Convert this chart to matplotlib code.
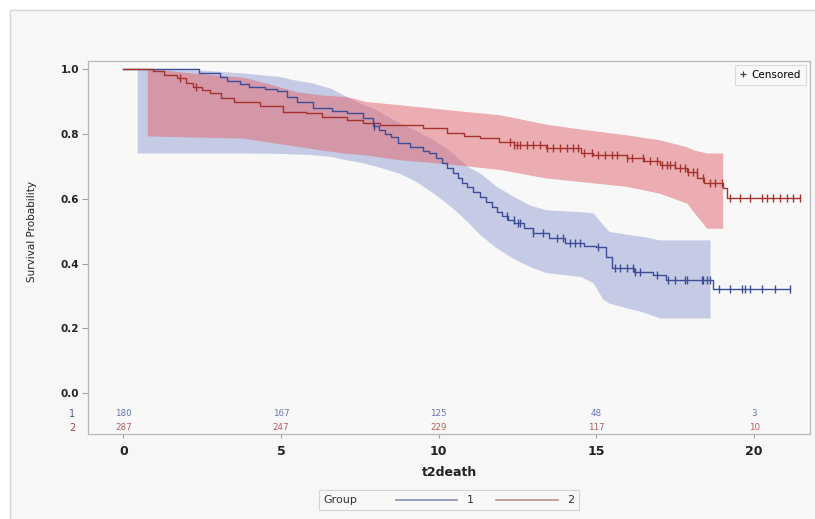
import numpy as np
import matplotlib
matplotlib.use("Agg")
import matplotlib.pyplot as plt
from matplotlib.lines import Line2D
from matplotlib.patches import Rectangle
from matplotlib.offsetbox import AnchoredOffsetbox, HPacker, TextArea, DrawingArea


# ---------------------------
# Data
# ---------------------------
# group 1 Kaplan-Meier step curve
g1_time = [0, 2.4, 3.07, 3.28, 3.7, 4.0, 4.5, 4.86, 5.2, 5.5, 6.0, 6.6, 7.08, 7.6,
           7.9, 8.1, 8.3, 8.5, 8.7, 9.1, 9.5, 9.7, 9.9, 10.1, 10.25, 10.45, 10.6,
           10.75, 10.9, 11.1, 11.3, 11.5, 11.7, 11.85, 12.0, 12.2, 12.4, 12.7,
           13.0, 13.5, 14.0, 14.6, 15.0, 15.3, 15.5, 16.2, 16.8, 17.2, 18.7, 21.1]
g1_surv = [1.0, 0.988, 0.977, 0.962, 0.954, 0.946, 0.938, 0.931, 0.915, 0.9,
           0.88, 0.87, 0.864, 0.85, 0.825, 0.813, 0.80, 0.79, 0.772, 0.760,
           0.748, 0.741, 0.725, 0.71, 0.695, 0.68, 0.665, 0.65, 0.635, 0.62,
           0.605, 0.59, 0.575, 0.56, 0.548, 0.535, 0.525, 0.51, 0.494, 0.478,
           0.464, 0.455, 0.452, 0.42, 0.386, 0.375, 0.365, 0.35, 0.322, 0.322]

# group 2 Kaplan-Meier step curve
g2_time = [0, 0.95, 1.3, 1.7, 2.0, 2.2, 2.5, 2.75, 3.1, 3.5, 4.33, 5.07, 5.8,
           6.3, 7.08, 7.6, 8.14, 9.5, 10.25, 10.8, 11.3, 11.9, 12.37, 13.4, 14.5,
           14.9, 15.96, 16.5, 17.0, 17.5, 17.87, 18.2, 18.4, 19.0, 19.13, 21.45]
g2_surv = [1.0, 0.993, 0.983, 0.972, 0.958, 0.946, 0.935, 0.926, 0.912, 0.9,
           0.885, 0.869, 0.864, 0.852, 0.844, 0.835, 0.828, 0.819, 0.802, 0.795,
           0.787, 0.775, 0.766, 0.757, 0.741, 0.736, 0.726, 0.716, 0.705, 0.695,
           0.684, 0.665, 0.649, 0.634, 0.602, 0.602]

# confidence bands
g1_band_t = [0.44, 2.5, 3.8, 4.97, 5.4, 6.0, 6.6, 7.08, 7.5, 8.03, 8.77, 9.3,
             9.82, 10.25, 10.57, 10.9, 11.3, 11.8, 12.37, 12.9, 13.4, 14.5, 14.9,
             15.2, 15.4, 16.0, 16.5, 17.0, 18.6]
g1_upper = [1.0, 0.997, 0.988, 0.977, 0.967, 0.957, 0.94, 0.915, 0.895, 0.874,
            0.833, 0.81, 0.782, 0.755, 0.73, 0.70, 0.68, 0.64, 0.607, 0.58, 0.566,
            0.56, 0.556, 0.52, 0.499, 0.49, 0.483, 0.473, 0.473]
g1_lower = [0.741, 0.741, 0.741, 0.74, 0.738, 0.736, 0.73, 0.72, 0.713, 0.70,
            0.678, 0.652, 0.618, 0.586, 0.56, 0.53, 0.49, 0.45, 0.415, 0.39, 0.372,
            0.36, 0.34, 0.29, 0.278, 0.262, 0.25, 0.232, 0.232]

g2_band_t = [0.76, 1.5, 2.5, 3.8, 4.6, 5.5, 6.3, 7.08, 7.7, 8.77, 10.36, 11.95,
             13.4, 14.5, 15.96, 17.0, 17.87, 18.07, 18.5, 19.0]
g2_upper = [1.0, 0.995, 0.985, 0.975, 0.955, 0.93, 0.92, 0.915, 0.90, 0.89,
            0.874, 0.859, 0.83, 0.815, 0.797, 0.782, 0.76, 0.751, 0.741, 0.741]
g2_lower = [0.794, 0.792, 0.79, 0.787, 0.775, 0.762, 0.75, 0.74, 0.735, 0.72,
            0.707, 0.69, 0.664, 0.653, 0.638, 0.617, 0.586, 0.56, 0.509, 0.509]

# censoring times
g1_cens = [7.95, 12.16, 12.37, 12.52, 12.58, 13.0, 13.32, 13.74, 13.95, 14.16,
           14.32, 14.48, 15.05, 15.59, 15.75, 15.96, 16.16, 16.22, 16.38, 16.91,
           17.27, 17.49, 17.81, 17.86, 18.34, 18.38, 18.5, 18.6, 18.87, 19.24,
           19.6, 19.7, 19.87, 20.24, 20.66, 21.14]
g2_cens = [1.8, 2.3, 12.26, 12.37, 12.47, 12.58, 12.79, 13.0, 13.21, 13.42,
           13.63, 13.85, 14.06, 14.27, 14.43, 14.59, 14.85, 15.06, 15.27, 15.49,
           15.64, 15.96, 16.12, 16.49, 16.70, 16.91, 17.07, 17.23, 17.34, 17.49,
           17.65, 17.81, 17.91, 18.07, 18.18, 18.39, 18.60, 18.76, 18.97, 19.24,
           19.55, 19.87, 20.24, 20.4, 20.6, 20.82, 21.03, 21.23, 21.45]

# number at risk
risk_times = [0, 5, 10, 15, 20]
g1_risk = [180, 167, 125, 48, 3]
g2_risk = [287, 247, 229, 117, 10]

BLUE = "#3b4c98"
RED = "#a5322d"


def step_value(times, surv, t):
    """value of a right-continuous step curve at t"""
    idx = np.searchsorted(times, t, side="right") - 1
    return np.asarray(surv)[np.clip(idx, 0, len(surv) - 1)]


# ---------------------------
# Figure
# ---------------------------
fig = plt.figure(figsize=(8.15, 5.19), dpi=100, facecolor="white")
fig.add_artist(Rectangle((10 / 815, -0.05), 1.2, 1 - 10 / 519 + 0.05,
                         transform=fig.transFigure, facecolor="#f7f7f7",
                         edgecolor="#d6d6d6", lw=1, zorder=-10))

ax = fig.add_axes([88 / 815, 1 - 434 / 519, 722 / 815, 373 / 519])
ax.set_facecolor("#f8f8f8")

ax.fill_between(g1_band_t, g1_lower, g1_upper, color="#7282c6", alpha=0.38, lw=0)
ax.fill_between(g2_band_t, g2_lower, g2_upper, color="#e06870", alpha=0.52, lw=0)

ax.step(g1_time, g1_surv, where="post", color=BLUE, lw=1.0)
ax.step(g2_time, g2_surv, where="post", color=RED, lw=1.0)

ax.plot(g1_cens, step_value(g1_time, g1_surv, g1_cens), ls="none",
        marker="|", ms=6, mew=1.0, color=BLUE)
ax.plot(g2_cens, step_value(g2_time, g2_surv, g2_cens), ls="none",
        marker="|", ms=6, mew=1.0, color=RED)

ax.set_xlim(-1.12, 21.77)
ax.set_ylim(-0.126, 1.025)

ax.set_xticks(risk_times)
ax.set_xticklabels([str(t) for t in risk_times], fontsize=9, fontweight="bold")
ax.set_yticks([0.0, 0.2, 0.4, 0.6, 0.8, 1.0])
ax.set_yticklabels(["0.0", "0.2", "0.4", "0.6", "0.8", "1.0"],
                   fontsize=7.5, fontweight="bold")
ax.tick_params(axis="x", length=3, color="#a0a0a0", pad=5, labelcolor="#222222")
ax.tick_params(axis="y", length=4.5, color="#a0a0a0", pad=2, labelcolor="#222222")
for sp in ax.spines.values():
    sp.set_color("#b8b8b8")
    sp.set_linewidth(0.9)

ax.set_ylabel("Survival Probability", fontsize=7.5, color="#222222")
ax.yaxis.set_label_coords(-0.071, 0.5416)
ax.set_xlabel("t2death", fontsize=9, fontweight="bold", color="#222222")
ax.xaxis.set_label_coords(0.5, -0.085)

# at-risk table inside the axes
for t, n1, n2 in zip(risk_times, g1_risk, g2_risk):
    ax.text(t, -0.064, str(n1), ha="center", va="center", fontsize=6.3,
            color="#6a78b4")
    ax.text(t, -0.107, str(n2), ha="center", va="center", fontsize=6.3,
            color="#b4605a")
ytrans = ax.get_yaxis_transform()
ax.text(-0.018, -0.064, "1", transform=ytrans, ha="right", va="center",
        fontsize=7, color="#505870")
ax.text(-0.018, -0.107, "2", transform=ytrans, ha="right", va="center",
        fontsize=7, color="#a04848")

# censored legend
cens_handle = Line2D([], [], ls="none", marker="+", ms=5, mew=0.9, color="#444444")
leg = ax.legend([cens_handle], ["Censored"], loc="upper right", fontsize=7.5,
                frameon=True, fancybox=False, handlelength=0.8, handletextpad=0.4,
                borderpad=0.45, borderaxespad=0.4)
leg.get_frame().set_edgecolor("#d4d4d4")
leg.get_frame().set_facecolor("#f8f8f8")
leg.get_frame().set_linewidth(0.8)


# group legend at bottom
def line_sample(color):
    da = DrawingArea(44, 8, 0, 0)
    da.add_artist(Line2D([0, 44], [4, 4], color=color, lw=1.1))
    return da


txt = dict(fontsize=8, color="#333333")
group_box = HPacker(children=[TextArea("Group", textprops=txt),
                              DrawingArea(14, 8),
                              line_sample("#7d86a6"), TextArea("1", textprops=txt),
                              DrawingArea(2, 8),
                              line_sample("#b08a82"), TextArea("2", textprops=txt)],
                    align="center", pad=0, sep=7)
anchored = AnchoredOffsetbox(loc="center", child=group_box, pad=0.35,
                             frameon=True, borderpad=0,
                             bbox_to_anchor=(449 / 815, 1 - 500 / 519),
                             bbox_transform=fig.transFigure)
anchored.patch.set_edgecolor("#d4d4d4")
anchored.patch.set_facecolor("#f8f8f8")
anchored.patch.set_linewidth(0.8)
fig.add_artist(anchored)

fig.savefig("out.png", dpi=100, facecolor="white")
